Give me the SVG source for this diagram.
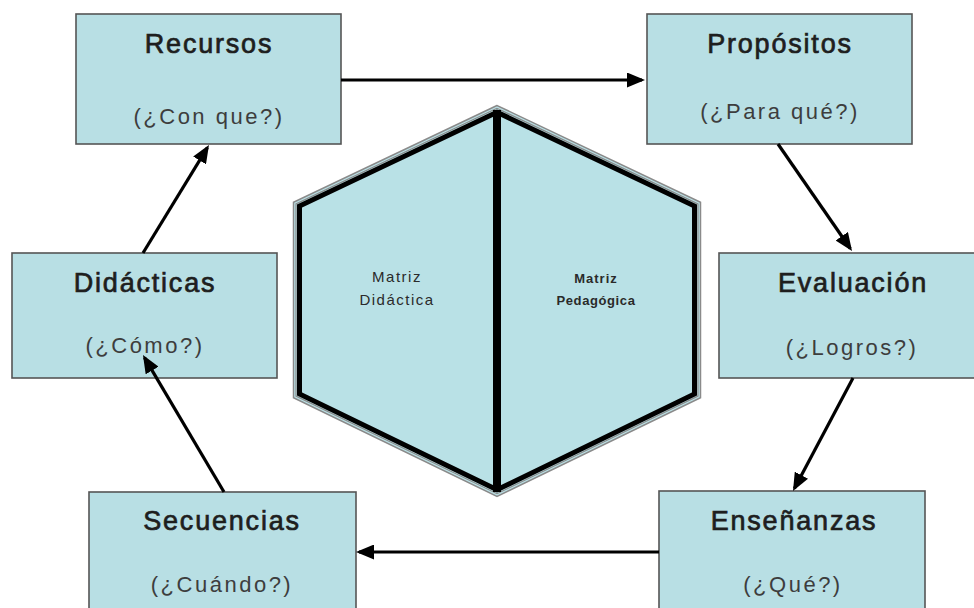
<svg xmlns="http://www.w3.org/2000/svg" width="974" height="608" viewBox="0 0 974 608">
<defs>
<style>
.box{fill:#b8dfe4;stroke:#555;stroke-width:1.6}
.t{font-family:"Liberation Sans",Arial,sans-serif;font-size:27px;fill:#1e1e1e;stroke:#1e1e1e;stroke-width:0.7px;text-anchor:middle;letter-spacing:1.8px}
.s{font-family:"Liberation Sans",Arial,sans-serif;font-size:22px;fill:#3d3d3d;text-anchor:middle;letter-spacing:2.5px}
.h{font-family:"Liberation Sans",Arial,sans-serif;font-size:15px;fill:#2a2a2a;text-anchor:middle;letter-spacing:1.5px}
.c{fill:none;stroke:#000;stroke-width:3.2;marker-end:url(#ah)}
</style>
<marker id="ah" markerUnits="userSpaceOnUse" viewBox="0 0 18 15" refX="15" refY="7.5" markerWidth="18" markerHeight="15" orient="auto">
<path d="M0,0 L18,7.5 L0,15 z" fill="#000"/>
</marker>
</defs>
<rect width="974" height="608" fill="#fff"/>

<g id="hexagon">
<polygon points="497,105.5 293.5,202.3 293.5,397.7 497,496.5 700.5,397.7 700.5,202.3" fill="#b9e1e6" stroke="#8a8a8a" stroke-width="1.5"/>
<polygon points="497,108.3 296,203.9 296,396.1 497,493.7 698,396.1 698,203.9" fill="none" stroke="#8a8a8a" stroke-width="1.2"/>
<polygon points="497,112.2 299.5,206.1 299.5,393.9 497,489.8 694.5,393.9 694.5,206.1" fill="none" stroke="#000" stroke-width="5"/>
<line x1="497" y1="110" x2="497" y2="492" stroke="#000" stroke-width="8"/>
<text class="h" x="397" y="282">Matriz</text>
<text class="h" x="397" y="305">Didáctica</text>
<text class="h" x="596" y="283" style="font-size:13px;letter-spacing:1px;font-weight:bold">Matriz</text>
<text class="h" x="596" y="305" style="font-size:13px;letter-spacing:0.6px;font-weight:bold">Pedagógica</text>
</g>

<g id="recursos">
<rect class="box" x="76" y="14" width="265" height="130"/>
<text class="t" x="209" y="53">Recursos</text>
<text class="s" x="209" y="124">(¿Con que?)</text>
</g>

<g id="propositos">
<rect class="box" x="647" y="14" width="265" height="130"/>
<text class="t" x="780" y="53">Propósitos</text>
<text class="s" x="780" y="119">(¿Para qué?)</text>
</g>

<g id="didacticas">
<rect class="box" x="12" y="253" width="265" height="125"/>
<text class="t" x="145" y="292">Didácticas</text>
<text class="s" x="145" y="353">(¿Cómo?)</text>
</g>

<g id="evaluacion">
<rect class="box" x="719" y="253" width="268" height="125"/>
<text class="t" x="853" y="292">Evaluación</text>
<text class="s" x="852" y="355">(¿Logros?)</text>
</g>

<g id="secuencias">
<rect class="box" x="89" y="492" width="267" height="130"/>
<text class="t" x="222" y="530">Secuencias</text>
<text class="s" x="222" y="592">(¿Cuándo?)</text>
</g>

<g id="ensenanzas">
<rect class="box" x="659" y="491" width="266" height="130"/>
<text class="t" x="794" y="530">Enseñanzas</text>
<text class="s" x="793" y="592">(¿Qué?)</text>
</g>

<g id="connectors">
<line class="c" x1="341" y1="80" x2="642" y2="80"/>
<line class="c" x1="778" y1="144" x2="850.3" y2="248.5"/>
<line class="c" x1="853" y1="378" x2="794.4" y2="488.4"/>
<line class="c" x1="659" y1="552" x2="359" y2="552"/>
<line class="c" x1="224" y1="492" x2="144.5" y2="357.6"/>
<line class="c" x1="143" y1="253" x2="207.4" y2="147.6"/>
</g>
</svg>
